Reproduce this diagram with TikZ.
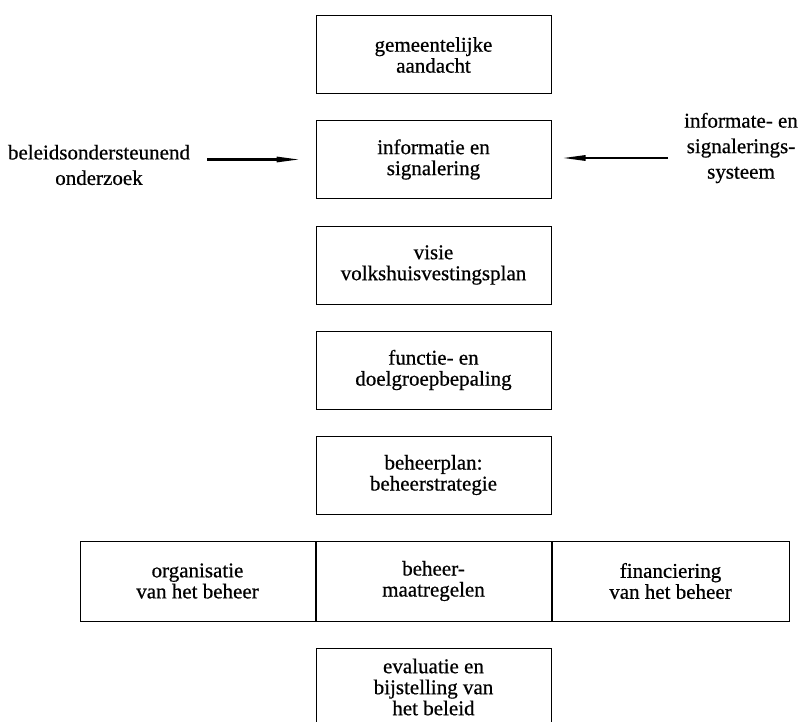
\documentclass[tikz,border=0pt]{standalone}
\usepackage{fontspec}
\setmainfont[FakeBold=0.6,AutoFakeBold=0.6]{Liberation Serif}
\usetikzlibrary{arrows.meta}
\begin{document}
\begin{tikzpicture}[x=1pt,y=-1pt,
  stage/.style={draw,line width=1pt,minimum width=235pt,minimum height=78pt,
    inner sep=0pt,align=center,font=\fontsize{21}{21}\selectfont\bfseries},
  cell/.style={stage,minimum height=80pt},
  side/.style={align=center,inner sep=0pt,font=\fontsize{21}{25.5}\selectfont\bfseries},
  feed/.style={line width=2.8pt,-{Triangle[length=26pt,width=5pt]}}]
\useasboundingbox (0,0) rectangle (805,722);
\clip (0,0) rectangle (805,722);

% main column of policy stages
\node[stage] (att)  at (433.5,55)    {gemeentelijke\\aandacht};
\node[stage] (info) at (433.5,159.5) {informatie en\\signalering};
\node[stage] (vis)  at (433.5,265)   {visie\\volkshuisvestingsplan};
\node[stage] (func) at (433.5,370)   {functie- en\\doelgroepbepaling};
\node[stage] (plan) at (433.5,475)   {beheerplan:\\beheerstrategie};

% row of three management components
\node[cell] (mid)   at (433.5,581) {beheer-\\maatregelen};
\node[cell,anchor=east] (org) at (mid.west) {organisatie\\van het beheer};
\node[cell,anchor=west,minimum width=237pt] (fin) at (mid.east) {financiering\\van het beheer};

\node[stage] (eval) at (433.5,687) {evaluatie en\\bijstelling van\\het beleid};

% inputs to the information stage
\node[side] (res) at (99,165)  {beleidsondersteunend\\onderzoek};
\node[side] (sys) at (741,148) {informate- en\\signalerings-\\systeem};

\coordinate (la) at (207,159.5);
\coordinate (ra) at (668,158);
\draw[feed,shorten >=13pt] (la) -- (la -| info.west);
\draw[feed,shorten >=8pt]  (ra) -- (ra -| info.east);
\end{tikzpicture}
\end{document}
